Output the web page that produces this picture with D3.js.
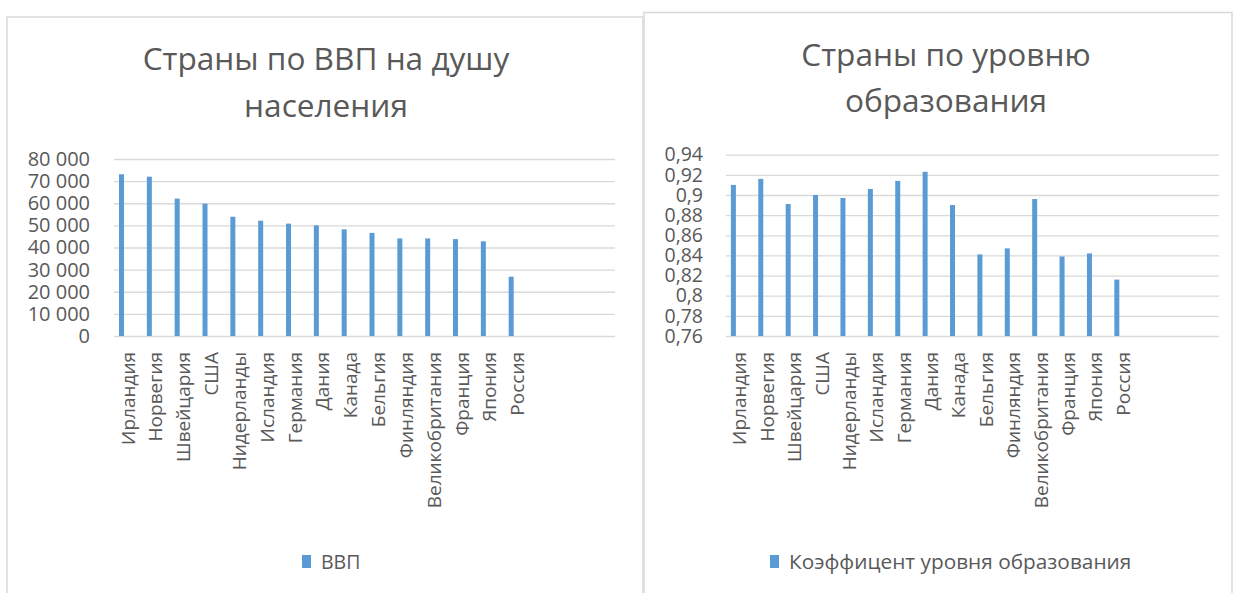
<!DOCTYPE html>
<html lang="ru">
<head>
<meta charset="utf-8">
<script src="https://cdn.jsdelivr.net/npm/d3@7"></script>
<style>
  html, body { margin: 0; padding: 0; background: #ffffff; }
  svg { display: block; font-family: "Open Sans", "Noto Sans", sans-serif; }
</style>
</head>
<body>
<svg id="chart" width="1235" height="593"></svg>
<script>
// Countries, in the order they appear on both charts
const countries = ["Ирландия", "Норвегия", "Швейцария", "США", "Нидерланды", "Исландия",
  "Германия", "Дания", "Канада", "Бельгия", "Финляндия", "Великобритания",
  "Франция", "Япония", "Россия"];
// Number of empty category slots left at the end of each axis
const emptySlots = 3;

// GDP per capita, USD
const gdpValues = [73100, 72000, 62100, 59800, 53900, 52100, 50800, 50000,
  48200, 46600, 44100, 44100, 43800, 42800, 26800];
const gdpTicks = [0, 10000, 20000, 30000, 40000, 50000, 60000, 70000, 80000];

// Education level index
const eduValues = [0.910, 0.916, 0.891, 0.900, 0.897, 0.906, 0.914, 0.923,
  0.890, 0.841, 0.847, 0.896, 0.839, 0.842, 0.816];
const eduTicks = [0.76, 0.78, 0.80, 0.82, 0.84, 0.86, 0.88, 0.90, 0.92, 0.94];

const BAR = "#5b9bd5";
const TEXT = "#595959";
const GRID = "#d9d9d9";

const ru = d3.formatLocale({ decimal: ",", thousands: "\u00a0", grouping: [3], currency: ["", " ₽"] });

const svg = d3.select("#chart");

function drawChart(o) {
  const g = svg.append("g");

  // frame
  g.append("path")
    .attr("d", `M${o.frame.x0},${o.frame.y1}V${o.frame.y0}H${o.frame.x1}V${o.frame.y1}`)
    .attr("fill", "none").attr("stroke", GRID).attr("stroke-width", 1.5);

  // title
  const t = g.append("text")
    .attr("x", o.titleX).attr("text-anchor", "middle")
    .attr("fill", TEXT).attr("font-size", 31.6);
  o.title.forEach((line, i) => {
    t.append("tspan").attr("x", o.titleX).attr("y", o.titleY + i * 46.5).text(line);
  });

  const slots = d3.range(o.categories.length + emptySlots);
  const x = d3.scaleBand().domain(slots).range(o.xRange);
  const y = d3.scaleLinear().domain(o.domain).range(o.yRange);

  // gridlines + value labels
  const yAxis = d3.axisLeft(y)
    .tickValues(o.ticks)
    .tickSize(-(o.xRange[1] - o.xRange[0]))
    .tickPadding(o.tickPad)
    .tickFormat(o.format);
  const ya = g.append("g").attr("transform", `translate(${o.xRange[0]},0)`).call(yAxis);
  ya.select(".domain").remove();
  ya.selectAll(".tick line").attr("stroke", GRID).attr("stroke-width", 1.3);
  ya.selectAll(".tick text").attr("fill", TEXT).attr("font-size", o.tickFont)
    .attr("font-family", "'Open Sans', sans-serif");

  // bars (first series slot within each category)
  const bw = 5;
  g.append("g").selectAll("rect")
    .data(o.values)
    .join("rect")
    .attr("x", (d, i) => x(i) + x.bandwidth() * 0.27 - bw / 2)
    .attr("width", bw)
    .attr("y", d => y(d))
    .attr("height", d => y(o.domain[0]) - y(d))
    .attr("fill", BAR);

  // category labels
  const xAxis = d3.axisBottom(x).tickSize(0).tickPadding(0)
    .tickFormat(i => o.categories[i] || "");
  const xa = g.append("g").attr("transform", `translate(0,${o.yRange[0]})`).call(xAxis);
  xa.select(".domain").remove();
  xa.selectAll(".tick text")
    .attr("fill", TEXT).attr("font-size", 19)
    .attr("font-family", "'Open Sans', sans-serif")
    .attr("text-anchor", "end")
    .attr("dy", "0.35em")
    .attr("transform", "translate(0,16) rotate(-90)");

  // legend
  const lg = g.append("g");
  lg.append("rect").attr("x", o.legendX).attr("y", o.legendY - 7)
    .attr("width", 9).attr("height", 13).attr("fill", BAR);
  lg.append("text").attr("x", o.legendX + 19).attr("y", o.legendY)
    .attr("dy", "0.35em").attr("fill", TEXT).attr("font-size", o.legendFont)
    .text(o.legend);
}

drawChart({
  frame: { x0: 7, x1: 643, y0: 17, y1: 600 },
  title: ["Страны по ВВП на душу", "населения"],
  titleX: 326, titleY: 70,
  categories: countries,
  values: gdpValues,
  ticks: gdpTicks,
  domain: [0, 80000],
  xRange: [114, 615],
  yRange: [336, 159],
  format: ru.format(",d"),
  tickFont: 20, tickPad: 24,
  legend: "ВВП", legendFont: 19.5,
  legendX: 302, legendY: 562
});

drawChart({
  frame: { x0: 644, x1: 1232, y0: 12.5, y1: 600 },
  title: ["Страны по уровню", "образования"],
  titleX: 946, titleY: 65.5,
  categories: countries,
  values: eduValues,
  ticks: eduTicks,
  domain: [0.76, 0.94],
  xRange: [726, 1219],
  yRange: [336, 154.7],
  format: ru.format("~r"),
  tickFont: 19.5, tickPad: 23,
  legend: "Коэффицент уровня образования", legendFont: 20.8,
  legendX: 770, legendY: 562
});
</script>
</body>
</html>
